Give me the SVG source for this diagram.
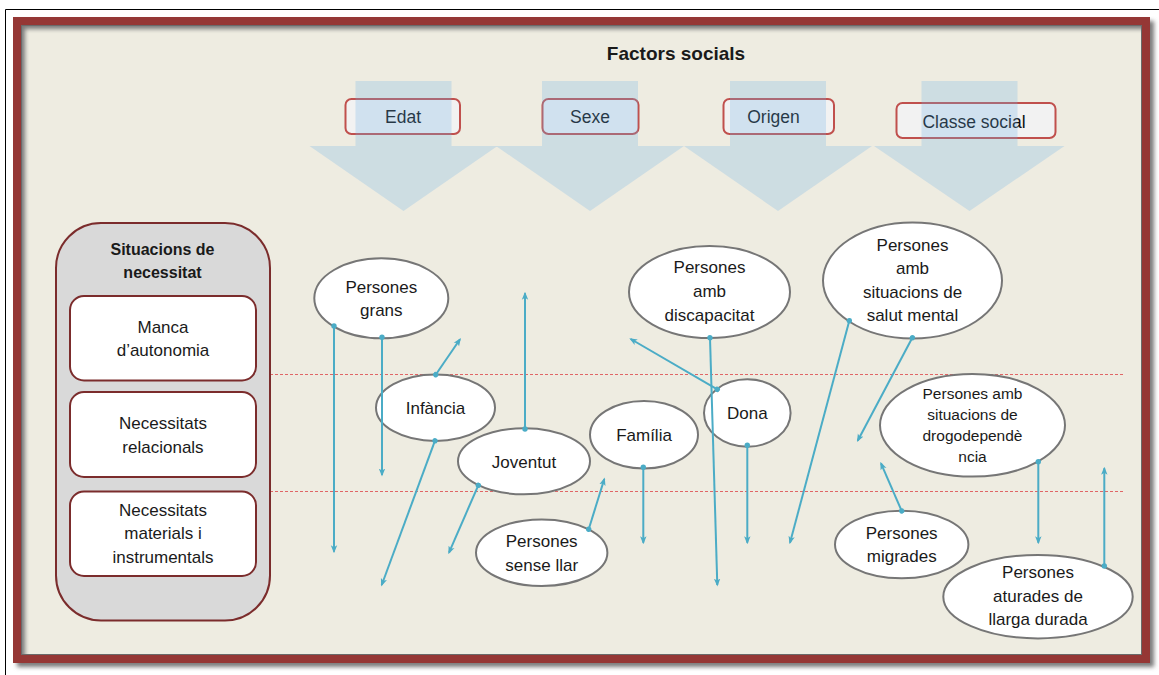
<svg xmlns="http://www.w3.org/2000/svg" width="1159" height="675" viewBox="0 0 1159 675">
<defs>
<style>
text{font-family:"Liberation Sans",Arial,sans-serif;fill:#1a1a1a;text-anchor:middle}
.t{font-size:17px}
.ts{font-size:15.5px}
.b{font-weight:bold}
.node ellipse{fill:#ffffff;stroke:#767676;stroke-width:2}
.fac rect{fill:#f2f2f2;stroke:#c0504d;stroke-width:2}
.fac text{font-size:17.5px;fill:#0d0d0d}
.big{fill:#6fb2e6;fill-opacity:0.26}
.dash{stroke:#e06666;stroke-width:1;stroke-dasharray:3 2;fill:none}
.inner rect{fill:#ffffff;stroke:#7b2c2c;stroke-width:2}
.c{stroke:#4bacc6;stroke-width:2;fill:none;marker-start:url(#dot);marker-end:url(#arr)}
</style>
<marker id="arr" markerUnits="userSpaceOnUse" viewBox="0 0 10 10" markerWidth="8" markerHeight="8" refX="8" refY="5" orient="auto">
<path d="M0,1 L10,5 L0,9 L2.5,5 Z" fill="#4bacc6"/>
</marker>
<marker id="dot" markerUnits="userSpaceOnUse" viewBox="0 0 10 10" markerWidth="6" markerHeight="6" refX="5" refY="5" orient="auto">
<circle cx="5" cy="5" r="4.5" fill="#4bacc6"/>
</marker>
<filter id="sh" x="-5%" y="-5%" width="110%" height="110%">
<feGaussianBlur stdDeviation="2"/>
</filter>
</defs>

<rect x="0" y="0" width="1159" height="675" fill="#ffffff"/>
<path d="M5.5,675 V9.5 H1159" fill="none" stroke="#000000" stroke-width="1"/>

<g id="frame">
<rect x="17" y="21" width="1129" height="638" fill="#eeece1"/>
<rect x="21" y="25" width="1129" height="638" fill="none" stroke="#7a7a7a" stroke-width="8" filter="url(#sh)"/>
<rect x="17" y="21" width="1129" height="638" fill="none" stroke="#953735" stroke-width="8"/>
<rect x="21.5" y="25.5" width="1120" height="629" fill="none" stroke="#6a6a6a" stroke-width="1"/>
</g>

<g id="title"><text class="b" x="676" y="60" style="font-size:19px">Factors socials</text></g>

<g id="guides">
<line class="dash" x1="270" y1="374.5" x2="1125" y2="374.5"/>
<line class="dash" x1="270" y1="491.5" x2="1125" y2="491.5"/>
</g>

<g id="factor-edat" class="fac"><rect x="345.5" y="99" width="114.5" height="35" rx="6"/><text x="403" y="123">Edat</text></g>
<g id="factor-sexe" class="fac"><rect x="542.5" y="99" width="96" height="35" rx="6"/><text x="590" y="123">Sexe</text></g>
<g id="factor-origen" class="fac"><rect x="723.5" y="99" width="110.5" height="35" rx="6"/><text x="773.5" y="123">Origen</text></g>
<g id="factor-classe" class="fac"><rect x="896.5" y="103" width="159" height="35" rx="6"/><text x="974" y="127.5">Classe social</text></g>

<g id="big-arrows">
<path class="big" d="M355.5,81 H451.5 V146 H497.5 L403.5,211 L309.5,146 H355.5 Z"/>
<path class="big" d="M542,81 H638 V146 H684 L590,211 L496,146 H542 Z"/>
<path class="big" d="M730,81 H826 V146 H872 L778,211 L684,146 H730 Z"/>
<path class="big" d="M921.5,81 H1017.5 V146 H1064.5 L969.5,211 L874,146 H921.5 Z"/>
</g>

<g id="situacions">
<rect x="56" y="223" width="214" height="397.5" rx="45" fill="#d9d9d9" stroke="#7b2c2c" stroke-width="2"/>
<text class="b" x="162.5" y="255" style="font-size:16px">Situacions de</text>
<text class="b" x="162.5" y="278.3" style="font-size:16px">necessitat</text>
</g>
<g id="manca" class="inner"><rect x="70" y="296" width="186" height="84.5" rx="14"/><text class="t" x="163" y="332.7">Manca</text><text class="t" x="163" y="355.7">d’autonomia</text></g>
<g id="relacionals" class="inner"><rect x="70" y="392" width="186" height="85" rx="14"/><text class="t" x="163" y="429">Necessitats</text><text class="t" x="163" y="452.7">relacionals</text></g>
<g id="materials" class="inner"><rect x="70" y="491.5" width="186" height="84.5" rx="14"/><text class="t" x="163" y="515.7">Necessitats</text><text class="t" x="163" y="539.3">materials i</text><text class="t" x="163" y="562.7">instrumentals</text></g>

<g id="persones-grans" class="node"><ellipse cx="381.3" cy="298.3" rx="67" ry="40"/><text class="t" x="381.3" y="293">Persones</text><text class="t" x="381.3" y="316.3">grans</text></g>
<g id="infancia" class="node"><ellipse cx="435.5" cy="407.7" rx="59.5" ry="33.3"/><text class="t" x="435.5" y="414">Infància</text></g>
<g id="joventut" class="node"><ellipse cx="524" cy="461.3" rx="66" ry="33"/><text class="t" x="524" y="468">Joventut</text></g>
<g id="sense-llar" class="node"><ellipse cx="541.7" cy="552.7" rx="65.7" ry="33.3"/><text class="t" x="541.7" y="547.3">Persones</text><text class="t" x="541.7" y="570.7">sense llar</text></g>
<g id="familia" class="node"><ellipse cx="644" cy="434.7" rx="54" ry="33.7"/><text class="t" x="644" y="440.7">Família</text></g>
<g id="discapacitat" class="node"><ellipse cx="709.5" cy="292" rx="80.5" ry="46"/><text class="t" x="709.5" y="273.3">Persones</text><text class="t" x="709.5" y="297">amb</text><text class="t" x="709.5" y="320.7">discapacitat</text></g>
<g id="dona" class="node"><ellipse cx="747.3" cy="413" rx="43.3" ry="33.7"/><text class="t" x="747.3" y="419">Dona</text></g>
<g id="salut-mental" class="node"><ellipse cx="912.5" cy="280.5" rx="89.5" ry="58"/><text class="t" x="912.5" y="250.5">Persones</text><text class="t" x="912.5" y="274">amb</text><text class="t" x="912.5" y="297.5">situacions de</text><text class="t" x="912.5" y="321">salut mental</text></g>
<g id="drogodependencia" class="node"><ellipse cx="972.5" cy="425.3" rx="92.5" ry="51.3"/><text class="ts" x="972.5" y="399.3">Persones amb</text><text class="ts" x="972.5" y="420">situacions de</text><text class="ts" x="972.5" y="441.2">drogodependè</text><text class="ts" x="972.5" y="461.7">ncia</text></g>
<g id="migrades" class="node"><ellipse cx="901.7" cy="544.5" rx="66.7" ry="33.8"/><text class="t" x="901.7" y="539">Persones</text><text class="t" x="901.7" y="561.7">migrades</text></g>
<g id="aturades" class="node"><ellipse cx="1038" cy="596.7" rx="94.7" ry="41.7"/><text class="t" x="1038" y="578.3">Persones</text><text class="t" x="1038" y="601.7">aturades de</text><text class="t" x="1038" y="625">llarga durada</text></g>

<g id="connectors">
<path class="c" d="M334,326 L334,551.7"/>
<path class="c" d="M382,337.3 L382,475"/>
<path class="c" d="M435.7,374.7 L460,339.3"/>
<path class="c" d="M435,440.7 L381.7,585"/>
<path class="c" d="M525,429 L525,293.3"/>
<path class="c" d="M478.3,485.3 L449,552.7"/>
<path class="c" d="M588.7,529.3 L604.3,479"/>
<path class="c" d="M717.3,389.3 L630.7,339"/>
<path class="c" d="M710,337.7 L717.3,585"/>
<path class="c" d="M643.3,467.3 L643.3,542.7"/>
<path class="c" d="M747.3,445.3 L747.3,542.7"/>
<path class="c" d="M849.3,320.7 L790,542.7"/>
<path class="c" d="M912.3,337.7 L857.7,440.7"/>
<path class="c" d="M901.7,511 L881,463.3"/>
<path class="c" d="M1038.3,461.7 L1038.3,542.7"/>
<path class="c" d="M1104.3,566 L1104.3,468.3"/>
</g>
</svg>
